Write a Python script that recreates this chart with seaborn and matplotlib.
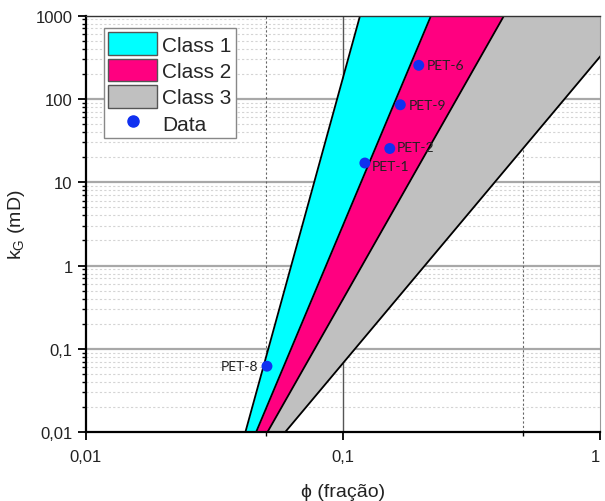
import numpy as np
import pandas as pd
import matplotlib
matplotlib.use("Agg")
import matplotlib.pyplot as plt
import seaborn as sns
from matplotlib.patches import Patch
from matplotlib.lines import Line2D
from matplotlib.ticker import FixedLocator, NullFormatter, LogLocator

# ---- data ----
# boundary lines (straight in log-log): porosity at k = 0.01 mD and at k = 1000 mD
boundary_names = ["A", "B", "C", "D"]
phi_at_kmin = [0.0417, 0.0459, 0.0508, 0.0595]
phi_at_kmax = [0.1165, 0.220, 0.423, 1.36]
k_min, k_max = 0.01, 1000.0

class_names = ["Class 1", "Class 2", "Class 3"]
class_colors = ["#00FFFF", "#FF0080", "#C0C0C0"]

samples = ["PET-6", "PET-9", "PET-2", "PET-1", "PET-8"]
phi_data = [0.197, 0.167, 0.152, 0.1216, 0.0506]
k_data = [253, 85, 25.4, 17.0, 0.062]

x_ticks = [0.01, 0.1, 1]
x_ticklabels = ["0,01", "0,1", "1"]
y_ticks = [0.01, 0.1, 1, 10, 100, 1000]
y_ticklabels = ["0,01", "0,1", "1", "10", "100", "1000"]

sns.set_theme(style="white")
plt.rcParams["font.family"] = ["Liberation Sans", "DejaVu Sans"]

fig = plt.figure(figsize=(6.05, 5.02), dpi=100)
ax = fig.add_axes([0.142, 0.137, 0.85, 0.83])
ax.set_xscale("log")
ax.set_yscale("log")
ax.set_xlim(0.01, 1)
ax.set_ylim(0.01, 1000)

# grid
ax.set_axisbelow(True)
for yv in y_ticks[1:-1]:
    ax.axhline(yv, color="#a8a8a8", lw=1.6, zorder=0)
for dec in [0.01, 0.1, 1, 10, 100]:
    for m in range(2, 10):
        ax.axhline(dec * m, color="#d4d4d4", lw=0.8, ls=(0, (2, 2)), zorder=0)
ax.axvline(0.1, color="#555555", lw=1.0, zorder=0)
for xv in [0.05, 0.5]:
    ax.axvline(xv, color="#666666", lw=0.8, ls=(0, (2, 2)), zorder=0)

# boundary functions
kk = np.logspace(np.log10(k_min), np.log10(k_max), 200)
def phi_of_k(i, k):
    lp0, lp1 = np.log10(phi_at_kmin[i]), np.log10(phi_at_kmax[i])
    t = (np.log10(k) - np.log10(k_min)) / (np.log10(k_max) - np.log10(k_min))
    return 10 ** (lp0 + t * (lp1 - lp0))

bounds = [phi_of_k(i, kk) for i in range(len(boundary_names))]
for j, (name, col) in enumerate(zip(class_names, class_colors)):
    ax.fill_betweenx(kk, bounds[j], bounds[j + 1], color=col, lw=0, zorder=2)

lines_df = pd.concat([
    pd.DataFrame({"phi": bounds[i], "k": kk, "b": boundary_names[i]})
    for i in range(len(boundary_names))
])
sns.lineplot(data=lines_df, x="phi", y="k", units="b", estimator=None,
             color="black", lw=1.3, ax=ax, zorder=3, sort=False)

pts = pd.DataFrame({"phi": phi_data, "k": k_data, "name": samples})
sns.scatterplot(data=pts, x="phi", y="k", color="#1030F0", s=62,
                edgecolor="none", ax=ax, zorder=5)

offsets = {"PET-6": (6, 0, "left", "center"), "PET-9": (6, 0, "left", "center"),
           "PET-2": (5, 1, "left", "center"), "PET-1": (5, -2, "left", "center"),
           "PET-8": (-6, 0, "right", "center")}
for n, x, y in zip(samples, phi_data, k_data):
    dx, dy, ha, va = offsets[n]
    ax.annotate(n, (x, y), xytext=(dx, dy), textcoords="offset points",
                ha=ha, va=va, fontsize=10, color="#222222",
                family=["Lato", "DejaVu Sans"], zorder=6)

# ticks
ax.xaxis.set_major_locator(FixedLocator(x_ticks))
ax.set_xticklabels(x_ticklabels)
ax.xaxis.set_minor_locator(FixedLocator([0.05, 0.5]))
ax.xaxis.set_minor_formatter(NullFormatter())
ax.yaxis.set_major_locator(FixedLocator(y_ticks))
ax.set_yticklabels(y_ticklabels)
ax.yaxis.set_minor_locator(LogLocator(base=10, subs=np.arange(2, 10), numticks=20))
ax.yaxis.set_minor_formatter(NullFormatter())
ax.tick_params(axis="both", which="major", direction="out", length=6, width=1.3,
               labelsize=12, colors="black", labelcolor="#222222",
               bottom=True, left=True)
ax.tick_params(axis="both", which="minor", direction="out", length=3, width=1.0,
               bottom=True, left=True, colors="black")
ax.tick_params(axis="x", which="major", pad=6)
for lbl in ax.get_xticklabels():
    if lbl.get_text() == "1":
        lbl.set_horizontalalignment("right")

for s in ["left", "bottom"]:
    ax.spines[s].set_color("black")
    ax.spines[s].set_linewidth(1.6)
ax.spines["top"].set_color("#333333")
ax.spines["top"].set_linewidth(1.0)
ax.spines["right"].set_color("#999999")
ax.spines["right"].set_linewidth(0.8)
for s in ax.spines.values():
    s.set_zorder(7)

ax.set_xlabel("ϕ (fração)", fontsize=14, labelpad=14, color="#222222")
ax.set_ylabel(r"$\mathregular{k_G}$ (mD)", fontsize=14, labelpad=6, color="#222222")

handles = [Patch(facecolor=c, edgecolor="#555555", lw=1.0, label=n)
           for n, c in zip(class_names, class_colors)]
handles.append(Line2D([], [], marker="o", ls="none", color="#1030F0",
                      markersize=8, label="Data"))
leg = ax.legend(handles=handles, loc="upper left", bbox_to_anchor=(0.035, 0.97),
                fontsize=15, frameon=True, fancybox=False, edgecolor="#888888",
                framealpha=1, handlelength=2.35, handleheight=1.3,
                labelspacing=0.18, borderpad=0.2, handletextpad=0.25,
                borderaxespad=0)
leg.get_frame().set_linewidth(1.0)
leg.set_zorder(8)

fig.savefig("out.png", dpi=100)
